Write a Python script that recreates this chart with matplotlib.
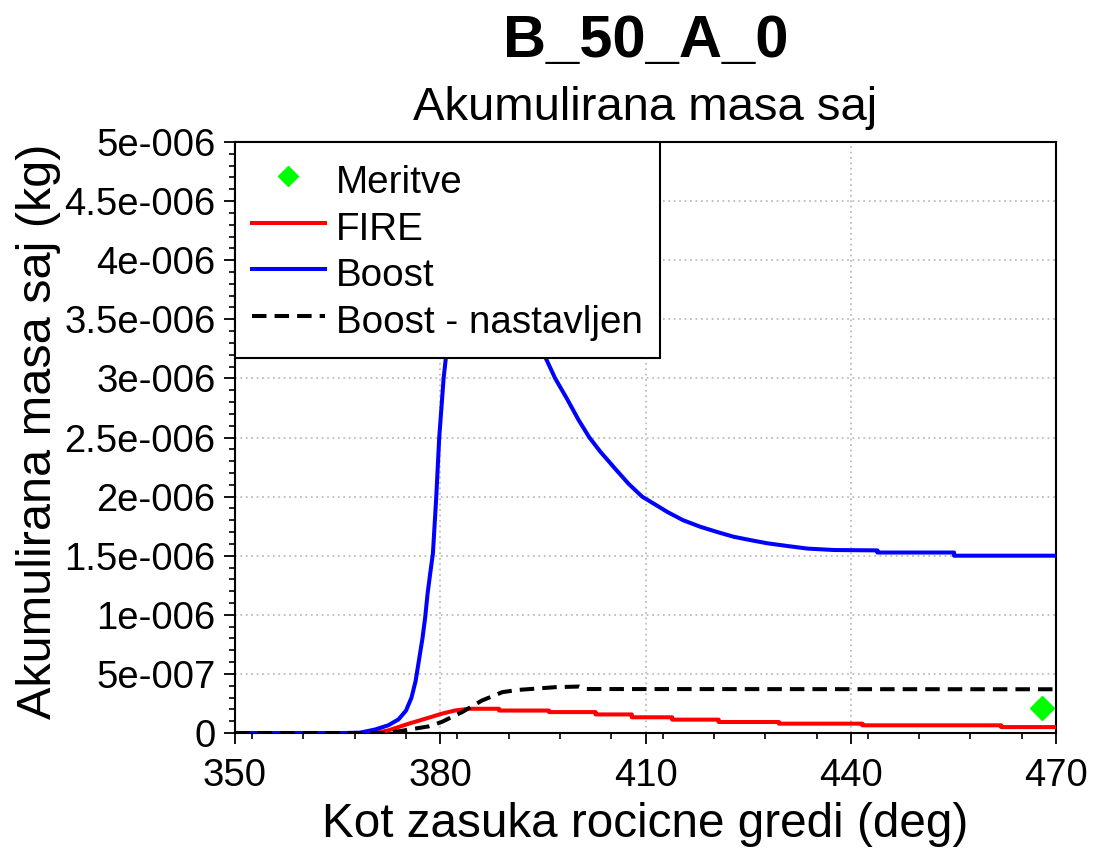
import matplotlib
matplotlib.use("Agg")
import matplotlib.pyplot as plt
from matplotlib.ticker import MultipleLocator, FixedLocator

plt.rcParams['font.family'] = ['Liberation Sans', 'DejaVu Sans']

# Crank angle (deg) and accumulated soot mass (kg)
meritve_x = [468.0]
meritve_y = [0.21e-6]

fire_x = [350, 370.5, 372.4, 375.4, 378.3, 380.2, 382.2, 384.2, 388.6, 388.6,
          395.9, 395.9, 402.7, 402.7, 408.0, 408.0, 413.9, 413.9, 420.7, 420.7,
          429.5, 429.5, 441.7, 441.7, 462.0, 462.0, 470]
fire_y = [0, 0, 0.022e-6, 0.079e-6, 0.129e-6, 0.163e-6, 0.191e-6, 0.205e-6, 0.205e-6, 0.19e-6,
          0.19e-6, 0.177e-6, 0.177e-6, 0.157e-6, 0.157e-6, 0.133e-6, 0.133e-6, 0.113e-6, 0.113e-6, 0.093e-6,
          0.093e-6, 0.079e-6, 0.079e-6, 0.065e-6, 0.065e-6, 0.05e-6, 0.05e-6]

boost_x = [350, 366, 368.3, 370.5, 372.4, 373.9, 375.0, 375.8, 376.4, 376.9,
           377.4, 377.8, 378.15, 378.6, 378.93, 379.42, 379.85, 380.49, 380.83, 381.5,
           382.5, 384, 386, 389, 392, 395.35, 396.8, 398.5, 400.2, 401.8,
           403.4, 405.5, 407.5, 409.5, 411.5, 413.2, 415.5, 418.0, 420.5, 422.9,
           425.5, 427.8, 431, 433.7, 437.6, 443.9, 443.9, 455.1, 455.1, 470]
boost_y = [0, 0, 0.003e-6, 0.03e-6, 0.065e-6, 0.115e-6, 0.19e-6, 0.30e-6, 0.44e-6, 0.62e-6,
           0.80e-6, 0.98e-6, 1.18e-6, 1.38e-6, 1.52e-6, 2.0e-6, 2.5e-6, 3.0e-6, 3.18e-6, 3.5e-6,
           3.9e-6, 4.3e-6, 4.4e-6, 4.15e-6, 3.75e-6, 3.18e-6, 3.0e-6, 2.83e-6, 2.65e-6, 2.5e-6,
           2.38e-6, 2.24e-6, 2.11e-6, 2.0e-6, 1.93e-6, 1.87e-6, 1.80e-6, 1.745e-6, 1.70e-6, 1.66e-6,
           1.63e-6, 1.605e-6, 1.58e-6, 1.56e-6, 1.548e-6, 1.545e-6, 1.527e-6, 1.527e-6, 1.5e-6, 1.5e-6]

nast_x = [350, 372.4, 376.3, 378.3, 380.2, 383.2, 386.1, 389.1, 391.5, 396.9,
          400.3, 401.3, 470]
nast_y = [0, 0, 0.037e-6, 0.056e-6, 0.093e-6, 0.177e-6, 0.275e-6, 0.346e-6, 0.365e-6, 0.388e-6,
          0.393e-6, 0.372e-6, 0.37e-6]

x_ticks = [350, 380, 410, 440, 470]
y_ticks = [0, 0.5e-6, 1e-6, 1.5e-6, 2e-6, 2.5e-6, 3e-6, 3.5e-6, 4e-6, 4.5e-6, 5e-6]
y_tick_labels = ['0', '5e-007', '1e-006', '1.5e-006', '2e-006', '2.5e-006',
                 '3e-006', '3.5e-006', '4e-006', '4.5e-006', '5e-006']

fig = plt.figure(figsize=(10.97, 8.52), dpi=100)
ax = fig.add_axes([235 / 1097, 1 - 733 / 852, (1056 - 235) / 1097, (733 - 142) / 852])

ax.plot(meritve_x, meritve_y, linestyle='none', marker='D', markersize=12.5,
        color='#00ff00', label='Meritve', zorder=5)
ax.plot(fire_x, fire_y, color='#ff0000', lw=2.9, label='FIRE', zorder=3)
ax.plot(boost_x, boost_y, color='#0000ff', lw=2.9, label='Boost', zorder=3)
ax.plot(nast_x, nast_y, color='black', lw=2.9, dashes=(3.6, 2.0),
        label='Boost - nastavljen', zorder=4)

ax.set_xlim(350, 470)
ax.set_ylim(0, 5e-6)
ax.xaxis.set_major_locator(FixedLocator(x_ticks))
ax.xaxis.set_minor_locator(MultipleLocator(7.5))
ax.yaxis.set_major_locator(FixedLocator(y_ticks))
ax.set_yticklabels(y_tick_labels)
ax.yaxis.set_minor_locator(MultipleLocator(1e-7))

ax.grid(True, which='major', color='#bdbdbd', linestyle=(0, (1, 2)), lw=1.3, zorder=0)
ax.set_axisbelow(True)

for s in ax.spines.values():
    s.set_linewidth(1.5)
ax.tick_params(which='major', direction='out', length=8, width=1.3, labelsize=27.5, pad=6)
ax.tick_params(which='minor', direction='out', length=4.5, width=1.2)
ax.tick_params(axis='x', which='major', pad=10)

leg = ax.legend(loc='upper left', bbox_to_anchor=(0, 1), borderaxespad=0.0,
                fontsize=27.8, handlelength=1.88, handletextpad=0.3,
                labelspacing=0.12, borderpad=0.44, handleheight=1.3,
                markerscale=0.83, fancybox=False, framealpha=1, edgecolor='black')
leg.get_frame().set_linewidth(1.5)

fig.text(645.5 / 1097, 1 - 57 / 852, 'B_50_A_0', ha='center', va='baseline',
         fontsize=43, fontweight='bold')
fig.text(645.5 / 1097, 1 - 120 / 852, 'Akumulirana masa saj', ha='center', va='baseline',
         fontsize=34)
fig.text(645.5 / 1097, 1 - 837 / 852, 'Kot zasuka rocicne gredi (deg)', ha='center',
         va='baseline', fontsize=34.3)
fig.text(39 / 1097, 1 - 431 / 852, 'Akumulirana masa saj (kg)', ha='center', va='center',
         rotation=90, fontsize=35)

fig.savefig('out.png', dpi=100)
